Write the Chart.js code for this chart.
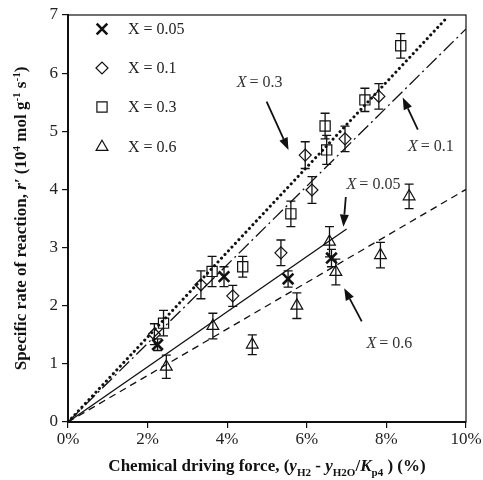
<!DOCTYPE html>
<html>
<head>
<meta charset="utf-8">
<script src="https://cdn.jsdelivr.net/npm/chart.js@4/dist/chart.umd.min.js"></script>
<style>
html,body{margin:0;padding:0;background:#fff;}
#wrap{width:483px;height:480px;position:relative;}
</style>
</head>
<body>
<div id="wrap"><canvas id="c" width="483" height="480"></canvas></div>
<script>
// ---- data (x in %, y in 10^4 mol g^-1 s^-1) ----
const seriesNames = ['X = 0.05', 'X = 0.1', 'X = 0.3', 'X = 0.6'];
const x005 = [2.25, 3.92, 5.53, 6.62];
const y005 = [1.33, 2.50, 2.46, 2.82];
const e005 = [0.10, 0.17, 0.14, 0.15];
const x01 = [2.17, 3.34, 4.14, 5.35, 5.96, 6.13, 6.96, 7.81];
const y01 = [1.51, 2.36, 2.17, 2.91, 4.59, 3.99, 4.87, 5.60];
const e01 = [0.18, 0.24, 0.18, 0.22, 0.23, 0.23, 0.22, 0.22];
const x03 = [2.40, 3.62, 4.39, 5.60, 6.46, 6.50, 7.46, 8.36];
const y03 = [1.70, 2.59, 2.67, 3.58, 5.09, 4.68, 5.54, 6.47];
const e03 = [0.22, 0.26, 0.18, 0.22, 0.22, 0.25, 0.20, 0.21];
const x06 = [2.47, 3.64, 4.63, 5.75, 6.57, 6.73, 7.85, 8.57];
const y06 = [0.95, 1.65, 1.33, 2.00, 3.10, 2.58, 2.87, 3.88];
const e06 = [0.20, 0.22, 0.17, 0.22, 0.26, 0.22, 0.22, 0.21];
// fitted lines through origin (end points)
const fit005X = [0, 7.0],  fit005Y = [0, 3.32];
const fit01X  = [0, 10],   fit01Y  = [0, 6.76];
const fit03X  = [0, 9.5],  fit03Y  = [0, 6.94];
const fit06X  = [0, 10],   fit06Y  = [0, 4.0];
const xTicks = [0, 2, 4, 6, 8, 10];
const yTicks = [0, 1, 2, 3, 4, 5, 6, 7];
// annotation labels: [label, textX, textY, arrowFromX, arrowFromY, arrowToX, arrowToY]
const notes = [
  ['0.3',  4.24, 5.83, 4.99, 5.51, 5.54, 4.68],
  ['0.1',  8.54, 4.74, 8.79, 5.03, 8.41, 5.58],
  ['0.05', 7.00, 4.08, 6.98, 3.87, 6.92, 3.36],
  ['0.6',  7.50, 1.34, 7.38, 1.73, 6.94, 2.30]
];
// axis titles as rich-text runs: [text, italic, shift(0 normal, 1 sub, -1 sup)]
const xTitleRuns = [['Chemical driving force, (', 0, 0], ['y', 1, 0], ['H2', 0, 1], [' - ', 0, 0],
  ['y', 1, 0], ['H2O', 0, 1], ['/', 0, 0], ['K', 1, 0], ['p4', 0, 1], [' ) (%)', 0, 0]];
const yTitleRuns = [['Specific rate of reaction, ', 0, 0], ['r\u2032', 1, 0], [' (10', 0, 0], ['4', 0, -1],
  [' mol g', 0, 0], ['-1', 0, -1], [' s', 0, 0], ['-1', 0, -1], [')', 0, 0]];

const pts = (xs, ys) => xs.map((x, i) => ({x: x, y: ys[i]}));
const SERIF = '"Liberation Serif","Times New Roman",serif';

function markerDs(label, xs, ys, es, style, r, w) {
  return {type: 'scatter', label, data: pts(xs, ys), errors: es,
    pointStyle: style, pointRadius: r, pointHoverRadius: r,
    borderColor: '#111', backgroundColor: 'rgba(0,0,0,0)', pointBorderWidth: w, borderWidth: w,
    showLine: false, order: 1};
}
function lineDs(xs, ys, dash, w, cap) {
  return {type: 'line', label: '', data: pts(xs, ys), borderColor: '#111', borderWidth: w,
    borderDash: dash, borderCapStyle: cap || 'butt', pointRadius: 0, fill: false, tension: 0, order: 2};
}

const datasets = [
  lineDs(fit005X, fit005Y, [], 1.3),
  lineDs(fit01X, fit01Y, [14, 4, 2, 4], 1.3),
  lineDs(fit03X, fit03Y, [0.1, 5], 3, 'round'),
  lineDs(fit06X, fit06Y, [7, 5], 1.3),
  markerDs(seriesNames[0], x005, y005, e005, 'crossRot', 7.5, 2.6),
  markerDs(seriesNames[1], x01, y01, e01, 'rectRot', 6, 1.2),
  markerDs(seriesNames[2], x03, y03, e03, 'rect', 7.2, 1.2),
  markerDs(seriesNames[3], x06, y06, e06, 'triangle', 6.8, 1.2)
];

function runsWidth(ctx, runs, size) {
  let w = 0;
  runs.forEach(r => {
    const s = r[2] ? size * 0.65 : size;
    ctx.font = 'bold ' + (r[1] ? 'italic ' : '') + s + 'px ' + SERIF;
    w += ctx.measureText(r[0]).width;
  });
  return w;
}
function drawRuns(ctx, runs, size, x0, yBase) {
  let x = x0;
  runs.forEach(r => {
    const s = r[2] ? size * 0.65 : size;
    ctx.font = 'bold ' + (r[1] ? 'italic ' : '') + s + 'px ' + SERIF;
    const dy = r[2] === 1 ? size * 0.3 : (r[2] === -1 ? -size * 0.38 : 0);
    ctx.fillText(r[0], x, yBase + dy);
    x += ctx.measureText(r[0]).width;
  });
}

const extras = {
  id: 'extras',
  beforeDatasetsDraw(chart) {
    const {ctx, chartArea: a} = chart;
    ctx.save();
    ctx.strokeStyle = '#111';
    ctx.lineWidth = 1.2;
    ctx.strokeRect(a.left, a.top, a.right - a.left, a.bottom - a.top);
    ctx.restore();
  },
  afterDatasetsDraw(chart) {
    const {ctx, chartArea: a, scales: {x, y}} = chart;
    ctx.save();
    ctx.strokeStyle = '#111';
    ctx.lineWidth = 1.3;
    // error bars
    chart.data.datasets.forEach(ds => {
      if (!ds.errors) return;
      ds.data.forEach((p, i) => {
        const px = x.getPixelForValue(p.x);
        const t = y.getPixelForValue(p.y + ds.errors[i]);
        const b = y.getPixelForValue(p.y - ds.errors[i]);
        ctx.beginPath();
        ctx.moveTo(px, t); ctx.lineTo(px, b);
        ctx.moveTo(px - 4.5, t); ctx.lineTo(px + 4.5, t);
        ctx.moveTo(px - 4.5, b); ctx.lineTo(px + 4.5, b);
        ctx.stroke();
      });
    });
    // legend (inside plot)
    const legX = 102, legTextX = 128, legY = [29, 68, 107, 147];
    const markers = chart.data.datasets.filter(d => d.errors);
    markers.forEach((ds, i) => {
      ctx.fillStyle = 'rgba(0,0,0,0)';
      ctx.strokeStyle = '#111';
      ctx.lineWidth = ds.pointBorderWidth;
      Chart.helpers.drawPoint(ctx, {pointStyle: ds.pointStyle, radius: ds.pointRadius, borderWidth: ds.pointBorderWidth},
        legX, legY[i]);
      ctx.fillStyle = '#222';
      ctx.font = '16px ' + SERIF;
      ctx.textAlign = 'left';
      ctx.textBaseline = 'middle';
      ctx.fillText(ds.label, legTextX, legY[i] + 1);
    });
    // annotations with arrows
    notes.forEach(n => {
      const tx = x.getPixelForValue(n[1]), ty = y.getPixelForValue(n[2]);
      ctx.fillStyle = '#333';
      ctx.textBaseline = 'middle';
      ctx.textAlign = 'left';
      ctx.font = 'italic 16px ' + SERIF;
      ctx.fillText('X', tx, ty);
      const w = ctx.measureText('X').width;
      ctx.font = '16px ' + SERIF;
      ctx.fillText(' = ' + n[0], tx + w - 1, ty);
      const x1 = x.getPixelForValue(n[3]), y1 = y.getPixelForValue(n[4]);
      const x2 = x.getPixelForValue(n[5]), y2 = y.getPixelForValue(n[6]);
      const ang = Math.atan2(y2 - y1, x2 - x1);
      const hl = 12, hw = 4.5;
      const bx = x2 - hl * Math.cos(ang), by = y2 - hl * Math.sin(ang);
      ctx.strokeStyle = '#111';
      ctx.lineWidth = 1.8;
      ctx.beginPath(); ctx.moveTo(x1, y1); ctx.lineTo(bx, by); ctx.stroke();
      ctx.fillStyle = '#111';
      ctx.beginPath();
      ctx.moveTo(x2, y2);
      ctx.lineTo(bx + hw * Math.sin(ang), by - hw * Math.cos(ang));
      ctx.lineTo(bx - hw * Math.sin(ang), by + hw * Math.cos(ang));
      ctx.closePath(); ctx.fill();
    });
    // axis titles
    ctx.fillStyle = '#111';
    ctx.textAlign = 'left';
    ctx.textBaseline = 'alphabetic';
    const size = 17;
    const xw = runsWidth(ctx, xTitleRuns, size);
    drawRuns(ctx, xTitleRuns, size, (a.left + a.right) / 2 - xw / 2, 471);
    const yw = runsWidth(ctx, yTitleRuns, size);
    ctx.translate(26, (a.top + a.bottom) / 2);
    ctx.rotate(-Math.PI / 2);
    drawRuns(ctx, yTitleRuns, size, -yw / 2, 0);
    ctx.restore();
  }
};

new Chart(document.getElementById('c'), {
  data: {datasets},
  options: {
    responsive: false,
    animation: false,
    devicePixelRatio: 1,
    layout: {padding: {left: 0, right: 17, top: 15, bottom: 0}},
    plugins: {legend: {display: false}, tooltip: {enabled: false}},
    scales: {
      x: {
        type: 'linear', min: 0, max: 10,
        afterBuildTicks: s => { s.ticks = xTicks.map(v => ({value: v})); },
        afterFit: s => { s.height = 58; },
        ticks: {color: '#222', font: {family: SERIF, size: 17}, padding: 1, maxRotation: 0,
          callback: v => v + '%'},
        grid: {display: true, drawOnChartArea: false, drawTicks: true, tickLength: 6, color: '#111', lineWidth: 1.2},
        border: {display: true, color: '#111', width: 2},
        title: {display: false}
      },
      y: {
        type: 'linear', min: 0, max: 7,
        afterBuildTicks: s => { s.ticks = yTicks.map(v => ({value: v})); },
        afterFit: s => { s.width = 68; },
        ticks: {color: '#222', font: {family: SERIF, size: 17}, padding: 4},
        grid: {display: true, drawOnChartArea: false, drawTicks: true, tickLength: 6, color: '#111', lineWidth: 1.2},
        border: {display: true, color: '#111', width: 2},
        title: {display: false}
      }
    }
  },
  plugins: [extras]
});
</script>
</body>
</html>
